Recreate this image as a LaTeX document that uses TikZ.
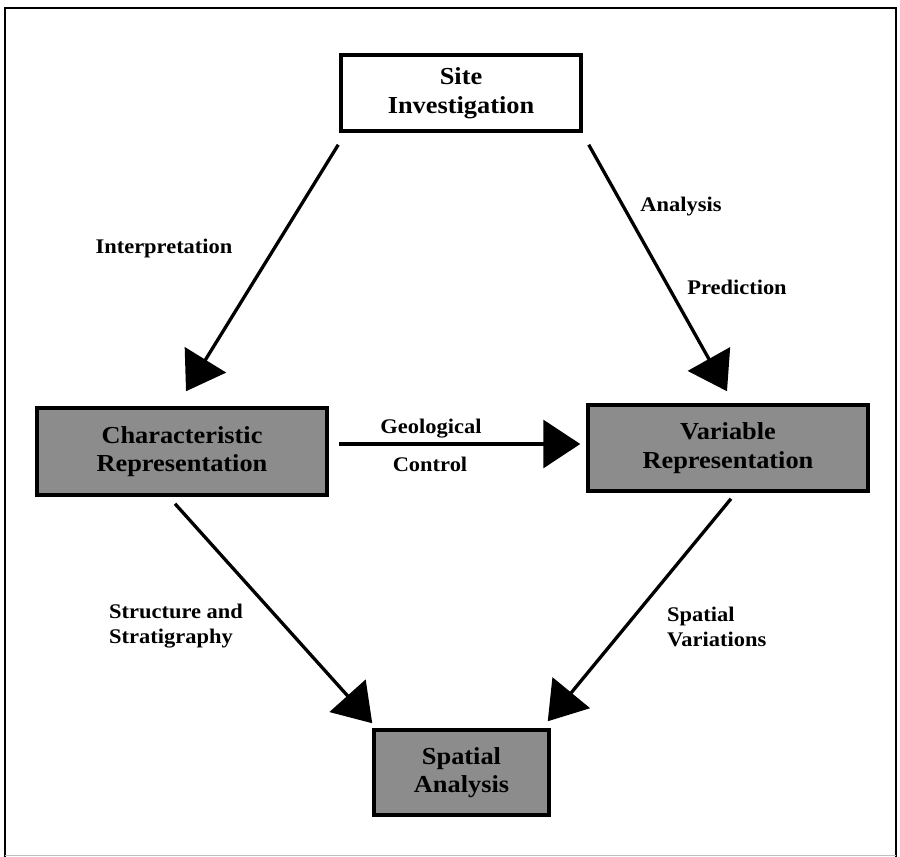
\documentclass[tikz,border=0pt]{standalone}
\usepackage{fontspec}
\setmainfont{Liberation Serif}
\newfontfamily\diagfont[FakeStretch=1.08]{Liberation Serif}
\usetikzlibrary{arrows.meta,calc}

\tikzset{
  boxtext/.style={font=\diagfont\bfseries\fontsize{24.4}{28.5}\selectfont, align=center},
  lbltext/.style={font=\diagfont\bfseries\fontsize{20.8}{24.5}\selectfont, inner sep=0pt},
  plainbox/.style={boxtext, draw=black, line width=3.5pt, fill=white, inner sep=0pt},
  shadebox/.style={boxtext, draw=black, line width=3.5pt, fill=black!45, inner sep=0pt},
  flow/.style={line width=3.3pt, -{Triangle[length=37pt,width=48pt]}},
}

\begin{document}
\begin{tikzpicture}[x=1pt,y=-1pt]
  % page frame
  \useasboundingbox (0,0) rectangle (900,857);
  \fill[white] (0,0) rectangle (900,857);
  \draw[line width=2.8pt] (5,857) -- (5,8) -- (896,8) -- (896,857);
  \draw[line width=0.6pt, black!25] (5,855.5) -- (896,855.5);

  % boxes
  \node[plainbox, minimum width=240pt, minimum height=76pt] (site) at (461,93) {Site\\Investigation};
  \node[shadebox, minimum width=290pt, minimum height=87pt] (char) at (182,451.5) {Characteristic\\Representation};
  \node[shadebox, minimum width=280pt, minimum height=86pt] (var) at (728,448) {Variable\\Representation};
  \node[shadebox, minimum width=175pt, minimum height=85pt] (spat) at (461.5,772.5) {Spatial\\Analysis};

  % connector end points, placed just off the boxes
  \coordinate (s1) at ($(site.south west)+(-1,12)$);
  \coordinate (c1) at ($(char.north)+(4,-15)$);
  \coordinate (s2) at ($(site.south east)+(6,12)$);
  \coordinate (v1) at ($(var.north)+(-1,-12)$);
  \coordinate (c2) at ($(char.east)+(10,-7.5)$);
  \coordinate (v2) at ($(var.west)+(-6,-4)$);
  \coordinate (c3) at ($(char.south)+(-7,7)$);
  \coordinate (p1) at ($(spat.north west)+(0,-5)$);
  \coordinate (v3) at ($(var.south)+(3,6)$);
  \coordinate (p2) at ($(spat.north east)+(-3,-7)$);

  % connectors
  \draw[flow] (s1) -- (c1);
  \draw[flow] (s2) -- (v1);
  \draw[flow] (c2) -- (v2);
  \draw[flow] (c3) -- (p1);
  \draw[flow] (v3) -- (p2);

  % connector labels
  \node[lbltext, anchor=base] (l1) at (164,253) {Interpretation};
  \node[lbltext, anchor=base] (l2) at (681,211) {Analysis};
  \node[lbltext, anchor=base] (l3) at (737,294) {Prediction};
  \node[lbltext, anchor=base] (l4) at (431,433) {Geological};
  \node[lbltext, anchor=base] (l5) at (430,471) {Control};
  \node[lbltext, anchor=west, align=left] (l6) at (109,626) {Structure and\\Stratigraphy};
  \node[lbltext, anchor=west, align=left] (l7) at (667,627) {Spatial\\Variations};
\end{tikzpicture}
\end{document}
